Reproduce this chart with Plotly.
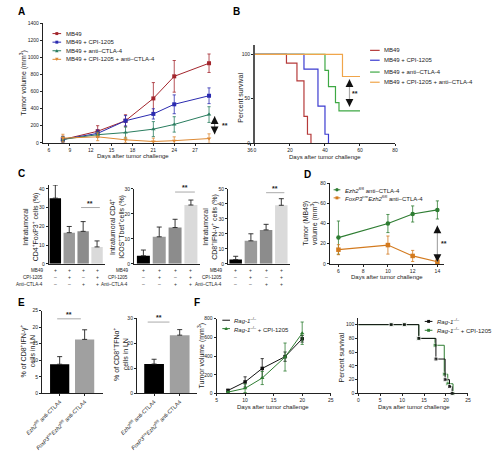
import plotly.graph_objects as go

W, H = 493, 451
FONT = "Liberation Sans, Arial, sans-serif"

# ---------------- DATA ----------------
# Panel A: tumor growth
a_days = [8, 13, 17, 21, 24, 29]
a_mb49 = [38, 135, 258, 519, 777, 930]
a_mb49_err = [40, 65, 70, 185, 185, 108]
a_cpi = [40, 110, 258, 338, 450, 550]
a_cpi_err = [30, 40, 60, 60, 110, 92]
a_ctla = [40, 95, 120, 160, 215, 330]
a_ctla_err = [30, 30, 65, 88, 90, 92]
a_combo = [55, 70, 35, 15, 25, 50]
a_combo_err = [45, 45, 30, 40, 45, 55]
a_xticks = [6, 9, 12, 15, 18, 21, 24, 27]
a_last_label = "36"

# Panel B: survival
b_mb49_t = [0, 18, 24, 28, 30, 32]
b_mb49_s = [100, 90, 70, 30, 10, 0]
b_cpi_t = [0, 28, 36, 40, 42]
b_cpi_s = [100, 83.3, 41.7, 10, 0]
b_ctla_t = [0, 40, 42, 46, 48, 60]
b_ctla_s = [100, 81.8, 63.6, 45.5, 36.4, 36.4]
b_combo_t = [0, 50, 60]
b_combo_s = [100, 75, 75]

# Panel C: bar charts (4 groups)
c_groups = [0, 1, 2, 3]
c1_vals = [35, 16.6, 17.3, 9.0]
c1_err = [7, 3.3, 5.2, 3.2]
c2_vals = [3.2, 10.8, 14.5, 23.5]
c2_err = [2.3, 3.9, 3.3, 2.0]
c3_vals = [2.8, 15.3, 22.6, 39.0]
c3_err = [2.2, 4.7, 3.7, 4.4]
c_row_labels = ["MB49", "CPI-1205", "Anti–CTLA-4"]
c_row_signs = [["+", "+", "+", "+"],
               ["–", "+", "–", "+"],
               ["–", "–", "+", "+"]]
c_colors = ["#000000", "#9a9a9a", "#8c8c8c", "#dadada"]

# Panel D
d_days = [6, 10, 12, 14]
d_xticks = [6, 8, 10, 12, 14]
d_wt = [26, 40, 49.5, 53.5]
d_wt_err = [16.5, 9, 8, 9]
d_ko = [14, 18.6, 7.8, 2]
d_ko_err = [5, 9, 5.5, 4]

# Panel E
e_labels = ["<i>Ezh2</i><sup>fl/fl</sup> anti-CTLA4",
            "<i>FoxP3</i><sup>cre</sup><i>Ezh2</i><sup>fl/fl</sup> anti-CTLA4"]
e1_vals = [8.8, 16.3]
e1_err = [2.3, 2.9]
e2_vals = [11.7, 23.2]
e2_err = [1.9, 2.2]

# Panel F
f_days = [7, 10, 13, 17, 20]
f_rag = [32, 123, 268, 394, 585]
f_rag_err = [12, 55, 105, 50, 35]
f_cpi = [14, 55, 165, 390, 645]
f_cpi_err = [8, 45, 70, 150, 120]
f2_rag_t = [0, 7.5, 10.5, 13.8, 17.7, 19.8, 20.8, 21.4]
f2_rag_s = [100, 100, 100, 80, 50, 20, 10, 0]
f2_cpi_t = [0, 7.5, 10.5, 13.8, 17.5, 19.6, 20.4, 21.6]
f2_cpi_s = [100, 100, 100, 80, 70, 28, 14, 0]

# ---------------- COLORS ----------------
RED, BLUE, TEAL, ORANGE = "#a3262d", "#2b2bb0", "#2a7d5f", "#dd8a35"
B_RED, B_BLUE, B_GREEN, B_ORANGE = "#b53a3a", "#3b3bd0", "#3ea844", "#f0a54a"
D_GREEN, D_ORANGE = "#2e7d32", "#d37a1e"
F_GREEN = "#2e7d32"


def xd(x0, x1):
    return [x0 / W, x1 / W]


def yd(y0, y1):
    return [1 - y1 / H, 1 - y0 / H]


def px(x):
    return x / W


def py(y):
    return 1 - y / H


TICKF = dict(family=FONT, size=5, color="#222")


def axis(domain, rng, anchor, **kw):
    d = dict(domain=domain, range=rng, anchor=anchor, showline=True, linecolor="#222",
             linewidth=1, ticks="outside", ticklen=2, tickwidth=1, tickcolor="#222",
             showgrid=False, zeroline=False, tickfont=TICKF, fixedrange=True)
    d.update(kw)
    return d


fig = go.Figure()
layout = dict(width=W, height=H, margin=dict(l=0, r=0, t=0, b=0), paper_bgcolor="white",
              plot_bgcolor="white", showlegend=False, font=dict(family=FONT, color="#222"))

# ---- Axes ----
layout["xaxis"] = axis(xd(27, 246), [5.13, 35.32], "y",
                       tickvals=a_xticks + [34.9], ticktext=[str(t) for t in a_xticks] + [a_last_label])
layout["yaxis"] = axis(yd(20.3, 141.7), [0, 1400], "x", dtick=200)
layout["xaxis2"] = axis(xd(248, 394), [0, 80], "y2", dtick=20)
layout["yaxis2"] = axis(yd(43, 142), [0, 110], "x2", tickvals=[0, 50, 100], linewidth=1.6, linecolor="#555")
layout["xaxis3"] = axis(xd(33, 92), [-0.48, 3.59], "y3", showticklabels=False, ticks="")
layout["yaxis3"] = axis(yd(184.5, 264.3), [0, 42], "x3", tickvals=[0, 10, 20, 30, 40])
layout["xaxis4"] = axis(xd(122, 191), [-0.59, 3.59], "y4", showticklabels=False, ticks="")
layout["yaxis4"] = axis(yd(188.3, 264.3), [0, 30], "x4", dtick=10)
layout["xaxis5"] = axis(xd(220, 285), [-0.5, 3.6], "y5", showticklabels=False, ticks="")
layout["yaxis5"] = axis(yd(188.3, 264.3), [0, 50], "x5", dtick=10)
layout["xaxis6"] = axis(xd(326, 445), [5.30, 14.53], "y6", tickvals=d_xticks)
layout["yaxis6"] = axis(yd(182.7, 264.3), [0, 80], "x6", dtick=20)
layout["xaxis7"] = axis(xd(26, 90), [-0.71, 1.75], "y7", tickvals=[0, 1], ticktext=e_labels,
                        tickangle=-45, tickfont=dict(family=FONT, size=5.5, color="#222"))
layout["yaxis7"] = axis(yd(311.7, 395.7), [0, 25], "x7", dtick=5)
layout["xaxis8"] = axis(xd(125, 188), [-0.67, 1.69], "y8", tickvals=[0, 1], ticktext=e_labels,
                        tickangle=-45, tickfont=dict(family=FONT, size=5.5, color="#222"))
layout["yaxis8"] = axis(yd(319.3, 395.7), [0, 30], "x8", dtick=10)
layout["xaxis9"] = axis(xd(208, 327), [5, 25], "y9", dtick=5)
layout["yaxis9"] = axis(yd(320, 395.7), [0, 800], "x9", dtick=200)
layout["xaxis10"] = axis(xd(355.7, 470), [0, 25], "y10", dtick=5)
layout["yaxis10"] = axis(yd(319, 395.7), [0, 110], "x10", tickvals=[0, 20, 40, 60, 80, 100])


def err(arr, sym=True):
    if sym:
        return dict(type="data", array=arr, visible=True, thickness=0.8, width=1.6)
    return dict(type="data", array=arr, arrayminus=[0] * len(arr), symmetric=False,
                visible=True, thickness=0.9, width=2.5, color="#222")


# ---- Panel A ----
for ys, es, col, sym in [(a_mb49, a_mb49_err, RED, "square"),
                         (a_cpi, a_cpi_err, BLUE, "square"),
                         (a_ctla, a_ctla_err, TEAL, "triangle-up"),
                         (a_combo, a_combo_err, ORANGE, "triangle-down")]:
    fig.add_trace(go.Scatter(x=a_days, y=ys, error_y=dict(err(es), color=col), mode="lines+markers",
                             line=dict(color=col, width=1), marker=dict(symbol=sym, size=4, color=col),
                             xaxis="x", yaxis="y", cliponaxis=False))

# ---- Panel B ----
for t, s, col in [(b_mb49_t, b_mb49_s, B_RED), (b_cpi_t, b_cpi_s, B_BLUE),
                  (b_ctla_t, b_ctla_s, B_GREEN), (b_combo_t, b_combo_s, B_ORANGE)]:
    fig.add_trace(go.Scatter(x=t, y=s, mode="lines", line=dict(color=col, width=1.2, shape="hv"),
                             xaxis="x2", yaxis="y2", cliponaxis=False))

# ---- Panel C ----
for vals, errs, n in [(c1_vals, c1_err, 3), (c2_vals, c2_err, 4), (c3_vals, c3_err, 5)]:
    fig.add_trace(go.Bar(x=c_groups, y=vals, width=0.82, marker=dict(color=c_colors, line=dict(width=0)),
                         error_y=err(errs, sym=False), xaxis=f"x{n}", yaxis=f"y{n}"))

# ---- Panel D ----
fig.add_trace(go.Scatter(x=d_days, y=d_wt, error_y=dict(err(d_wt_err), color=D_GREEN), mode="lines+markers",
                         line=dict(color=D_GREEN, width=1.2), marker=dict(symbol="circle", size=4.5, color=D_GREEN),
                         xaxis="x6", yaxis="y6", cliponaxis=False))
fig.add_trace(go.Scatter(x=d_days, y=d_ko, error_y=dict(err(d_ko_err), color=D_ORANGE), mode="lines+markers",
                         line=dict(color=D_ORANGE, width=1.2), marker=dict(symbol="square", size=4.5, color=D_ORANGE),
                         xaxis="x6", yaxis="y6", cliponaxis=False))

# ---- Panel E ----
for vals, errs, n in [(e1_vals, e1_err, 7), (e2_vals, e2_err, 8)]:
    fig.add_trace(go.Bar(x=[0, 1], y=vals, width=0.77, marker=dict(color=["#000000", "#a0a0a0"], line=dict(width=0)),
                         error_y=err(errs, sym=False), xaxis=f"x{n}", yaxis=f"y{n}"))

# ---- Panel F ----
fig.add_trace(go.Scatter(x=f_days, y=f_rag, error_y=dict(err(f_rag_err), color="#111"), mode="lines+markers",
                         line=dict(color="#111", width=1), marker=dict(symbol="square", size=3.5, color="#111"),
                         xaxis="x9", yaxis="y9", cliponaxis=False))
fig.add_trace(go.Scatter(x=f_days, y=f_cpi, error_y=dict(err(f_cpi_err), color=F_GREEN), mode="lines+markers",
                         line=dict(color=F_GREEN, width=1), marker=dict(symbol="triangle-up", size=4, color=F_GREEN),
                         xaxis="x9", yaxis="y9", cliponaxis=False))
for t, s, col in [(f2_cpi_t, f2_cpi_s, F_GREEN), (f2_rag_t, f2_rag_s, "#111")]:
    fig.add_trace(go.Scatter(x=t, y=s, mode="lines+markers", line=dict(color=col, width=1, shape="hv"),
                             marker=dict(symbol="square", size=[0] + [4] * (len(t) - 1), color=col),
                             xaxis="x10", yaxis="y10", cliponaxis=False))

# ---------------- ANNOTATIONS / SHAPES ----------------
ann = []
shapes = []


def text(x, y, s, size=6, angle=0, xanchor="center", yanchor="middle", bold=False, color="#222", **kw):
    if bold:
        s = f"<b>{s}</b>"
    d = dict(x=px(x), y=py(y), xref="paper", yref="paper", text=s, showarrow=False, textangle=angle,
             xanchor=xanchor, yanchor=yanchor, font=dict(family=FONT, size=size, color=color))
    d.update(kw)
    ann.append(d)


# panel letters
for L, x, y in [("A", 4.5, 8.5), ("B", 229, 8.5), ("C", 4.5, 173), ("D", 302.5, 174),
                ("E", 4.5, 304), ("F", 188, 304)]:
    text(x, y, L, size=10, bold=True, color="#000")

YT = 7.0
XT = 6.0
# axis titles
text(7, 81, "Tumor volume (mm<sup>3</sup>)", size=YT, angle=-90)
text(121, 155.5, "Days after tumor challenge", size=XT)
text(233.5, 96, "Percent survival", size=YT, angle=-90)
text(321.5, 156, "Days after tumor challenge", size=XT)
text(15, 227, "Intratumoral<br>CD4<sup>+</sup>FoxP3<sup>+</sup> cells (%)", size=YT, angle=-90)
text(104, 227, "Intratumoral CD4<sup>+</sup><br>ICOS<sup>+</sup>Tbet<sup>+</sup>cells (%)", size=YT, angle=-90)
text(202, 227, "Intratumoral<br>CD8<sup>+</sup>IFN-γ<sup>+</sup> cells (%)", size=YT, angle=-90)
text(305, 223, "Tumor (MB49)<br>volume (mm<sup>3</sup>)", size=YT, angle=-90)
text(385.5, 278, "Days after tumor challenge", size=XT)
text(10.5, 353, "% of CD8<sup>+</sup>IFN-γ<sup>+</sup><br>cells in LN", size=YT, angle=-90)
text(108, 356, "% of CD8<sup>+</sup>TFNα<sup>+</sup><br>cells in LN", size=YT, angle=-90)
text(192, 357, "Tumor volume (mm<sup>3</sup>)", size=YT, angle=-90)
text(267, 409, "Days after tumor challenge", size=XT)
text(338, 359, "Percent survival", size=YT, angle=-90)
text(413.5, 409, "Days after tumor challenge", size=XT)

# C table rows
row_y = [271, 278, 285]
for (xaxis_n, label_x) in [(3, 29), (4, 118), (5, 216)]:
    for r, lab in enumerate(c_row_labels):
        text(label_x, row_y[r], lab, size=4.6, xanchor="right")
        for g in c_groups:
            ann.append(dict(x=g, y=py(row_y[r]), xref=f"x{xaxis_n}", yref="paper", text=c_row_signs[r][g],
                            showarrow=False, font=dict(family=FONT, size=5, color="#333")))


# significance bars
def sig(xr, yr, x0, x1, y, tshift):
    shapes.append(dict(type="line", xref=xr, yref=yr, x0=x0, x1=x1, y0=y, y1=y,
                       line=dict(color="#aaa", width=1)))
    ann.append(dict(x=(x0 + x1) / 2, y=y, xref=xr, yref=yr, text="<b>**</b>", showarrow=False,
                    yanchor="bottom", yshift=tshift, font=dict(family=FONT, size=7, color="#222")))


sig("x3", "y3", 1.85, 3.2, 30, -1)
sig("x4", "y4", 2.0, 3.25, 28.7, -1)
sig("x5", "y5", 2.0, 3.2, 47.4, -1)
sig("x7", "y7", -0.1, 0.85, 22.5, -1)
sig("x8", "y8", -0.25, 0.6, 28.4, -1)


def darrow(xr, yr, x, y0, y1, shaft="#aaa"):
    # gray shaft with black arrow heads at both ends
    shapes.append(dict(type="line", xref=xr, yref=yr, x0=x, x1=x, y0=y0, y1=y1,
                       line=dict(color=shaft, width=1.2)))
    for yy, off in [(y0, 4), (y1, -4)]:
        ann.append(dict(x=x, y=yy, xref=xr, yref=yr, ax=0, ay=off, text="", showarrow=True,
                        arrowhead=2, arrowsize=1.3, arrowwidth=1.2, arrowcolor="#111"))


darrow("x", "y", 29.8, 310, 100, shaft="#888")
ann.append(dict(x=31.3, y=205, xref="x", yref="y", text="<b>**</b>", showarrow=False,
                font=dict(family=FONT, size=7, color="#222")))
darrow("x2", "y2", 54, 72, 41)
ann.append(dict(x=57.3, y=56, xref="x2", yref="y2", text="<b>**</b>", showarrow=False,
                font=dict(family=FONT, size=7, color="#222")))
darrow("x6", "y6", 14, 38, 1.8)
ann.append(dict(x=14.5, y=20, xref="x6", yref="y6", text="<b>**</b>", showarrow=False,
                font=dict(family=FONT, size=7, color="#222")))


# manual legends
def legend_item(x0, y, label, color, symbol=None, lw=1.0, length=9, size=6):
    shapes.append(dict(type="line", xref="paper", yref="paper", x0=px(x0), x1=px(x0 + length),
                       y0=py(y), y1=py(y), line=dict(color=color, width=lw)))
    if symbol:
        cx = x0 + length / 2
        if symbol == "square":
            shapes.append(dict(type="rect", xref="paper", yref="paper", x0=px(cx - 1.5), x1=px(cx + 1.5),
                               y0=py(y + 1.5), y1=py(y - 1.5), fillcolor=color, line=dict(width=0)))
        elif symbol == "circle":
            shapes.append(dict(type="circle", xref="paper", yref="paper", x0=px(cx - 1.7), x1=px(cx + 1.7),
                               y0=py(y + 1.7), y1=py(y - 1.7), fillcolor=color, line=dict(width=0)))
        elif symbol == "up":
            shapes.append(dict(type="path", xref="paper", yref="paper",
                               path=f"M {px(cx-1.8)} {py(y+1.5)} L {px(cx+1.8)} {py(y+1.5)} L {px(cx)} {py(y-1.8)} Z",
                               fillcolor=color, line=dict(width=0)))
        elif symbol == "down":
            shapes.append(dict(type="path", xref="paper", yref="paper",
                               path=f"M {px(cx-1.8)} {py(y-1.5)} L {px(cx+1.8)} {py(y-1.5)} L {px(cx)} {py(y+1.8)} Z",
                               fillcolor=color, line=dict(width=0)))
    text(x0 + length + 2.5, y, label, size=size, xanchor="left")


legA = ["MB49", "MB49 + CPI-1205", "MB49 + anti–CTLA-4", "MB49 + CPI-1205 + anti–CTLA-4"]
for i, (lab, col, sym) in enumerate(zip(legA, [RED, BLUE, TEAL, ORANGE], ["square", "square", "up", "down"])):
    legend_item(37, 31 + 8.7 * i, lab, col, sym)
for i, (lab, yy, col) in enumerate(zip(legA, [48, 58, 70, 80.3], [B_RED, B_BLUE, B_GREEN, B_ORANGE])):
    legend_item(368, yy, lab, col, None, lw=1.2, length=10)
legend_item(330, 189.3, "<i>Ezh2</i><sup>fl/fl</sup> anti–CTLA-4", D_GREEN, "circle", length=7)
legend_item(330, 197.5, "<i>FoxP3</i><sup>cre</sup><i>Ezh2</i><sup>fl/fl</sup> anti–CTLA-4", D_ORANGE, "square", length=7)
legend_item(214, 321.5, "<i>Rag-1</i><sup>–/–</sup>", "#111", None, length=8)
legend_item(214, 330, "<i>Rag-1</i><sup>–/–</sup> + CPI-1205", F_GREEN, "up", length=8)
legend_item(425, 322.7, "<i>Rag-1</i><sup>–/–</sup>", "#111", "square", length=8)
legend_item(425, 331.7, "<i>Rag-1</i><sup>–/–</sup> + CPI-1205", F_GREEN, "square", length=8)

layout["annotations"] = ann
layout["shapes"] = shapes
fig.update_layout(**layout)
fig.write_html("out.html")
